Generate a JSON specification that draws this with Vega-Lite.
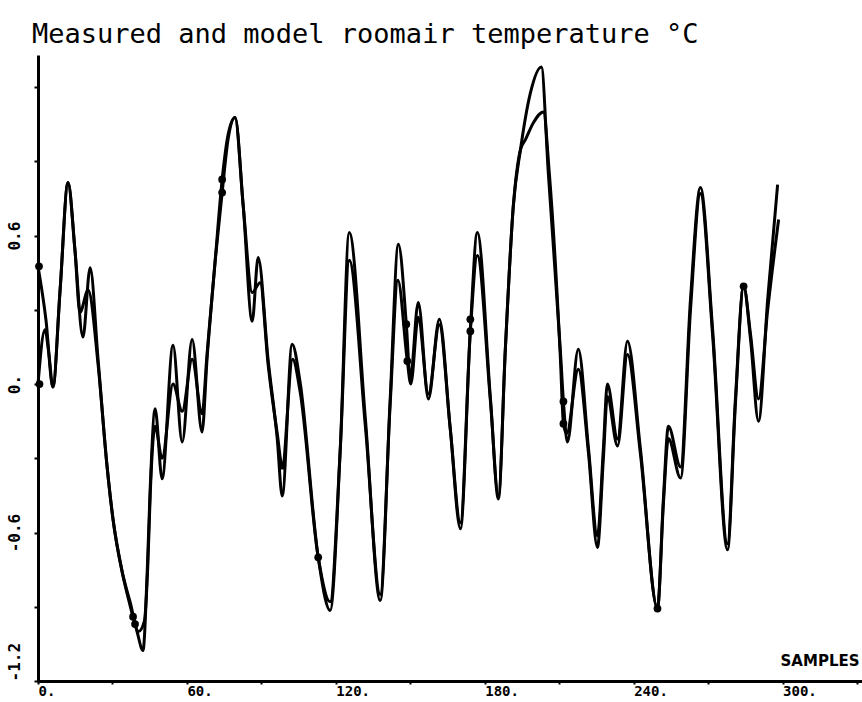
{
  "$schema": "https://vega.github.io/schema/vega-lite/v6.json",
  "width": 824,
  "height": 626,
  "autosize": {"type": "none"},
  "padding": {"left": 38, "top": 55, "right": 0, "bottom": 21},
  "background": "white",
  "config": {"view": {"stroke": null}},
  "title": {
    "text": "Measured and model roomair temperature °C",
    "anchor": "start",
    "frame": "group",
    "font": "DejaVu Sans Mono",
    "fontSize": 27,
    "fontWeight": "normal",
    "color": "black",
    "dx": -6,
    "offset": 6
  },
  "datasets": {
    "curves": [
      {"series": "measured", "s": 0, "v": 0.476},
      {"series": "measured", "s": 3.2, "v": 0.26},
      {"series": "measured", "s": 6.0, "v": -0.012},
      {"series": "measured", "s": 8.9, "v": 0.38},
      {"series": "measured", "s": 12.1, "v": 0.815},
      {"series": "measured", "s": 14.9, "v": 0.54},
      {"series": "measured", "s": 18.1, "v": 0.19},
      {"series": "measured", "s": 21.0, "v": 0.47},
      {"series": "measured", "s": 24.2, "v": 0.10},
      {"series": "measured", "s": 27.8, "v": -0.33},
      {"series": "measured", "s": 30.2, "v": -0.544},
      {"series": "measured", "s": 33.9, "v": -0.758},
      {"series": "measured", "s": 37.1, "v": -0.895},
      {"series": "measured", "s": 39.9, "v": -1.0},
      {"series": "measured", "s": 42.3, "v": -1.077},
      {"series": "measured", "s": 44.0, "v": -0.758},
      {"series": "measured", "s": 45.2, "v": -0.423},
      {"series": "measured", "s": 47.2, "v": -0.10},
      {"series": "measured", "s": 50.0, "v": -0.383},
      {"series": "measured", "s": 54.4, "v": 0.157},
      {"series": "measured", "s": 58.1, "v": -0.234},
      {"series": "measured", "s": 62.1, "v": 0.18},
      {"series": "measured", "s": 66.1, "v": -0.194},
      {"series": "measured", "s": 68.1, "v": 0.10},
      {"series": "measured", "s": 71.4, "v": 0.50},
      {"series": "measured", "s": 74.2, "v": 0.827},
      {"series": "measured", "s": 76.6, "v": 1.008},
      {"series": "measured", "s": 79.4, "v": 1.077},
      {"series": "measured", "s": 82.7, "v": 0.718},
      {"series": "measured", "s": 86.3, "v": 0.254},
      {"series": "measured", "s": 88.7, "v": 0.512},
      {"series": "measured", "s": 92.7, "v": 0.10},
      {"series": "measured", "s": 96.4, "v": -0.222},
      {"series": "measured", "s": 98.4, "v": -0.452},
      {"series": "measured", "s": 102.4, "v": 0.161},
      {"series": "measured", "s": 105.6, "v": 0.008},
      {"series": "measured", "s": 112.9, "v": -0.70},
      {"series": "measured", "s": 117.7, "v": -0.915},
      {"series": "measured", "s": 121.8, "v": -0.26},
      {"series": "measured", "s": 125.4, "v": 0.613},
      {"series": "measured", "s": 131.9, "v": -0.14},
      {"series": "measured", "s": 137.9, "v": -0.875},
      {"series": "measured", "s": 141.9, "v": -0.06},
      {"series": "measured", "s": 145.2, "v": 0.565},
      {"series": "measured", "s": 148.4, "v": 0.242},
      {"series": "measured", "s": 150.0, "v": 0.02},
      {"series": "measured", "s": 153.2, "v": 0.33},
      {"series": "measured", "s": 157.3, "v": -0.06},
      {"series": "measured", "s": 161.7, "v": 0.262},
      {"series": "measured", "s": 166.1, "v": -0.18},
      {"series": "measured", "s": 170.2, "v": -0.585},
      {"series": "measured", "s": 174.2, "v": 0.222},
      {"series": "measured", "s": 177.0, "v": 0.613},
      {"series": "measured", "s": 182.3, "v": -0.06},
      {"series": "measured", "s": 185.5, "v": -0.464},
      {"series": "measured", "s": 188.3, "v": 0.141},
      {"series": "measured", "s": 191.5, "v": 0.718},
      {"series": "measured", "s": 194.4, "v": 0.948},
      {"series": "measured", "s": 198.4, "v": 1.177},
      {"series": "measured", "s": 202.8, "v": 1.282},
      {"series": "measured", "s": 205.6, "v": 0.855},
      {"series": "measured", "s": 210.5, "v": 0.13},
      {"series": "measured", "s": 211.7, "v": -0.07},
      {"series": "measured", "s": 213.3, "v": -0.234},
      {"series": "measured", "s": 217.7, "v": 0.141},
      {"series": "measured", "s": 221.8, "v": -0.26},
      {"series": "measured", "s": 225.4, "v": -0.613},
      {"series": "measured", "s": 227.8, "v": -0.26},
      {"series": "measured", "s": 229.4, "v": 0.0},
      {"series": "measured", "s": 233.5, "v": -0.222},
      {"series": "measured", "s": 237.5, "v": 0.173},
      {"series": "measured", "s": 242.7, "v": -0.26},
      {"series": "measured", "s": 249.6, "v": -0.907},
      {"series": "measured", "s": 252.0, "v": -0.46},
      {"series": "measured", "s": 254.0, "v": -0.17},
      {"series": "measured", "s": 258.9, "v": -0.335},
      {"series": "measured", "s": 262.9, "v": 0.343},
      {"series": "measured", "s": 266.9, "v": 0.794},
      {"series": "measured", "s": 271.8, "v": 0.222},
      {"series": "measured", "s": 277.8, "v": -0.645},
      {"series": "measured", "s": 281.0, "v": -0.06},
      {"series": "measured", "s": 284.3, "v": 0.395},
      {"series": "measured", "s": 287.1, "v": 0.18},
      {"series": "measured", "s": 290.3, "v": -0.15},
      {"series": "measured", "s": 294.0, "v": 0.343},
      {"series": "measured", "s": 298.0, "v": 0.806},

      {"series": "model", "s": 0, "v": 0.0},
      {"series": "model", "s": 2.8, "v": 0.22},
      {"series": "model", "s": 4.4, "v": 0.12},
      {"series": "model", "s": 6.0, "v": -0.012},
      {"series": "model", "s": 8.9, "v": 0.38},
      {"series": "model", "s": 12.1, "v": 0.815},
      {"series": "model", "s": 14.9, "v": 0.54},
      {"series": "model", "s": 16.9, "v": 0.29},
      {"series": "model", "s": 20.2, "v": 0.38},
      {"series": "model", "s": 24.2, "v": 0.08},
      {"series": "model", "s": 27.8, "v": -0.33},
      {"series": "model", "s": 30.2, "v": -0.544},
      {"series": "model", "s": 33.9, "v": -0.758},
      {"series": "model", "s": 37.1, "v": -0.88},
      {"series": "model", "s": 40.5, "v": -1.0},
      {"series": "model", "s": 42.8, "v": -0.96},
      {"series": "model", "s": 44.3, "v": -0.72},
      {"series": "model", "s": 45.2, "v": -0.45},
      {"series": "model", "s": 47.2, "v": -0.17},
      {"series": "model", "s": 50.0, "v": -0.30},
      {"series": "model", "s": 54.4, "v": 0.0},
      {"series": "model", "s": 58.1, "v": -0.11},
      {"series": "model", "s": 62.1, "v": 0.10},
      {"series": "model", "s": 66.1, "v": -0.12},
      {"series": "model", "s": 68.1, "v": 0.12},
      {"series": "model", "s": 71.4, "v": 0.50},
      {"series": "model", "s": 74.2, "v": 0.774},
      {"series": "model", "s": 76.6, "v": 0.99},
      {"series": "model", "s": 79.4, "v": 1.077},
      {"series": "model", "s": 82.7, "v": 0.718},
      {"series": "model", "s": 86.3, "v": 0.37},
      {"series": "model", "s": 89.5, "v": 0.41},
      {"series": "model", "s": 92.7, "v": 0.08},
      {"series": "model", "s": 96.4, "v": -0.20},
      {"series": "model", "s": 98.4, "v": -0.33},
      {"series": "model", "s": 102.6, "v": 0.10},
      {"series": "model", "s": 105.6, "v": -0.03},
      {"series": "model", "s": 112.9, "v": -0.70},
      {"series": "model", "s": 117.7, "v": -0.88},
      {"series": "model", "s": 121.8, "v": -0.26},
      {"series": "model", "s": 125.4, "v": 0.50},
      {"series": "model", "s": 131.9, "v": -0.17},
      {"series": "model", "s": 137.9, "v": -0.85},
      {"series": "model", "s": 141.9, "v": -0.08},
      {"series": "model", "s": 145.0, "v": 0.42},
      {"series": "model", "s": 148.8, "v": 0.093},
      {"series": "model", "s": 150.2, "v": 0.0},
      {"series": "model", "s": 153.2, "v": 0.27},
      {"series": "model", "s": 157.3, "v": -0.04},
      {"series": "model", "s": 161.7, "v": 0.24},
      {"series": "model", "s": 166.1, "v": -0.18},
      {"series": "model", "s": 170.2, "v": -0.56},
      {"series": "model", "s": 174.2, "v": 0.214},
      {"series": "model", "s": 177.0, "v": 0.52},
      {"series": "model", "s": 182.3, "v": -0.07},
      {"series": "model", "s": 185.5, "v": -0.45},
      {"series": "model", "s": 188.3, "v": 0.141},
      {"series": "model", "s": 191.5, "v": 0.718},
      {"series": "model", "s": 194.4, "v": 0.948},
      {"series": "model", "s": 196.4, "v": 0.988},
      {"series": "model", "s": 199.6, "v": 1.056},
      {"series": "model", "s": 203.6, "v": 1.10},
      {"series": "model", "s": 206.0, "v": 0.855},
      {"series": "model", "s": 210.5, "v": 0.10},
      {"series": "model", "s": 211.7, "v": -0.16},
      {"series": "model", "s": 213.0, "v": -0.20},
      {"series": "model", "s": 217.7, "v": 0.06},
      {"series": "model", "s": 221.8, "v": -0.28},
      {"series": "model", "s": 225.4, "v": -0.66},
      {"series": "model", "s": 227.8, "v": -0.30},
      {"series": "model", "s": 229.4, "v": -0.05},
      {"series": "model", "s": 233.5, "v": -0.25},
      {"series": "model", "s": 237.5, "v": 0.12},
      {"series": "model", "s": 242.7, "v": -0.28},
      {"series": "model", "s": 249.6, "v": -0.907},
      {"series": "model", "s": 252.0, "v": -0.48},
      {"series": "model", "s": 254.0, "v": -0.22},
      {"series": "model", "s": 258.9, "v": -0.38},
      {"series": "model", "s": 262.9, "v": 0.30},
      {"series": "model", "s": 266.9, "v": 0.77},
      {"series": "model", "s": 271.8, "v": 0.20},
      {"series": "model", "s": 277.8, "v": -0.67},
      {"series": "model", "s": 281.0, "v": -0.08},
      {"series": "model", "s": 284.3, "v": 0.395},
      {"series": "model", "s": 287.1, "v": 0.20},
      {"series": "model", "s": 290.3, "v": -0.06},
      {"series": "model", "s": 294.0, "v": 0.30},
      {"series": "model", "s": 298.4, "v": 0.665}
    ],
    "markers": [
      {"s": 0.4, "v": 0.476},
      {"s": 0.6, "v": 0.0},
      {"s": 74.2, "v": 0.827},
      {"s": 74.2, "v": 0.774},
      {"s": 38.3, "v": -0.94},
      {"s": 39.1, "v": -0.97},
      {"s": 98.4, "v": -0.33},
      {"s": 112.9, "v": -0.70},
      {"s": 148.4, "v": 0.242},
      {"s": 148.8, "v": 0.093},
      {"s": 174.2, "v": 0.262},
      {"s": 174.2, "v": 0.214},
      {"s": 211.7, "v": -0.07},
      {"s": 211.7, "v": -0.16},
      {"s": 249.6, "v": -0.907},
      {"s": 284.3, "v": 0.395}
    ]
  },
  "layer": [
    {
      "data": {"name": "curves"},
      "mark": {"type": "line", "interpolate": "monotone", "color": "black", "strokeWidth": 3},
      "encoding": {
        "x": {
          "field": "s",
          "type": "quantitative",
          "scale": {"domain": [0, 332], "nice": false, "zero": false},
          "axis": {
            "values": [0, 30, 60, 90, 120, 150, 180, 210, 240, 270, 300, 330],
            "labelExpr": "datum.value % 60 == 0 ? datum.value + '.' : ''",
            "labelAlign": "left",
            "labelBaseline": "top",
            "labelPadding": 0,
            "labelFont": "DejaVu Sans Mono",
            "labelFontWeight": "bold",
            "labelFontSize": 14,
            "labelColor": "black",
            "labelOverlap": false,
            "labelFlush": false,
            "tickSize": 3,
            "tickWidth": 2,
            "tickColor": "black",
            "domainColor": "black",
            "domainWidth": 3,
            "grid": false,
            "title": "SAMPLES",
            "titleAnchor": "end",
            "titleAlign": "right",
            "titleX": 821,
            "titleY": -13,
            "titleBaseline": "bottom",
            "titleFont": "DejaVu Sans",
            "titleFontWeight": "bold",
            "titleFontSize": 15,
            "titleColor": "black"
          }
        },
        "y": {
          "field": "v",
          "type": "quantitative",
          "scale": {"domain": [-1.2, 1.33], "nice": false, "zero": false},
          "axis": {
            "values": [-1.2, -0.9, -0.6, -0.3, 0, 0.3, 0.6, 0.9, 1.2],
            "labelExpr": "datum.value == 0 ? '0.' : (datum.value == 0.6 ? '0.6' : (datum.value == -0.6 ? '-0.6' : (datum.value == -1.2 ? '-1.2' : '')))",
            "labelAngle": 270,
            "labelAlign": {"condition": {"test": "datum.value == -1.2", "value": "left"}, "value": "center"},
            "labelBaseline": "bottom",
            "labelPadding": 12,
            "labelFont": "DejaVu Sans Mono",
            "labelFontWeight": "bold",
            "labelFontSize": 16,
            "labelColor": "black",
            "labelOverlap": false,
            "labelFlush": false,
            "tickSize": 4,
            "tickWidth": 2,
            "tickColor": "black",
            "domainColor": "black",
            "domainWidth": 3,
            "grid": false,
            "title": null
          }
        },
        "detail": {"field": "series", "type": "nominal"}
      }
    },
    {
      "data": {"name": "markers"},
      "mark": {"type": "point", "filled": true, "color": "black", "size": 60, "opacity": 1},
      "encoding": {
        "x": {"field": "s", "type": "quantitative"},
        "y": {"field": "v", "type": "quantitative"}
      }
    }
  ]
}
